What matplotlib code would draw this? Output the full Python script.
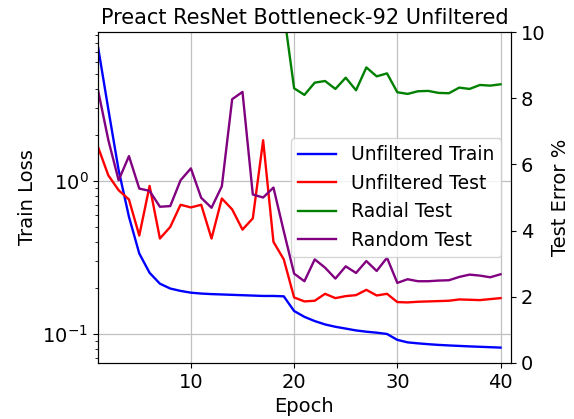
import matplotlib
matplotlib.use("Agg")
import matplotlib.pyplot as plt
import numpy as np

epochs = list(range(1, 41))

train_loss = [7.55, 2.95, 1.18, 0.585, 0.337, 0.252, 0.214, 0.199, 0.192, 0.187,
              0.1845, 0.183, 0.182, 0.181, 0.180, 0.179, 0.178, 0.178, 0.177, 0.142,
              0.130, 0.122, 0.116, 0.112, 0.109, 0.106, 0.104, 0.1025, 0.1005, 0.092,
              0.0886, 0.0873, 0.0862, 0.0853, 0.0846, 0.0840, 0.0834, 0.0829, 0.0824, 0.0819]

unfiltered_test = [6.53, 5.67, 5.22, 4.94, 3.85, 5.35, 3.76, 4.11, 4.78, 4.70,
                   4.78, 3.76, 4.97, 4.64, 4.03, 4.37, 6.73, 3.66, 3.13, 1.98,
                   1.86, 1.88, 2.09, 1.96, 2.02, 2.05, 2.21, 2.04, 2.09, 1.84,
                   1.83, 1.85, 1.86, 1.87, 1.88, 1.92, 1.91, 1.90, 1.93, 1.96]

radial_epochs = list(range(19, 41))
radial_test = [10.6, 8.30, 8.10, 8.47, 8.52, 8.28, 8.62, 8.24, 8.93, 8.66, 8.75,
               8.18, 8.13, 8.21, 8.22, 8.16, 8.15, 8.32, 8.28, 8.40, 8.38, 8.42]

random_test = [8.25, 6.74, 5.52, 6.25, 5.27, 5.20, 4.72, 4.74, 5.52, 5.88,
               4.99, 4.69, 5.34, 7.97, 8.19, 5.09, 5.00, 5.30, 3.98, 2.70,
               2.47, 3.13, 2.88, 2.55, 2.92, 2.72, 3.08, 2.78, 3.18, 2.42,
               2.53, 2.47, 2.47, 2.49, 2.50, 2.60, 2.67, 2.64, 2.59, 2.68]

fs = 14
fig = plt.figure(figsize=(5.74, 4.19), dpi=100)
ax1 = fig.add_axes([0.1707, 0.1337, 0.890 - 0.1707, 0.9236 - 0.1337])
ax2 = ax1.twinx()

l1, = ax1.plot(epochs, train_loss, color='blue', lw=1.7, label='Unfiltered Train')
ax1.set_yscale('log')
ax1.set_ylim(0.065, 9.4)
ax1.set_xlim(1, 41)
ax1.set_xticks([10, 20, 30, 40])
ax1.grid(True, which='major', color='#c0c0c0', lw=0.9)
ax1.set_xlabel('Epoch', fontsize=fs)
ax1.set_ylabel('Train Loss', fontsize=fs)
ax1.tick_params(labelsize=fs)

l2, = ax2.plot(epochs, unfiltered_test, color='red', lw=1.7, label='Unfiltered Test')
l3, = ax2.plot(radial_epochs, radial_test, color='green', lw=1.7, label='Radial Test')
l4, = ax2.plot(epochs, random_test, color='purple', lw=1.7, label='Random Test')
ax2.set_ylim(0, 10)
ax2.set_yticks([0, 2, 4, 6, 8, 10])
ax2.set_ylabel('Test Error %', fontsize=fs)
ax2.tick_params(labelsize=fs)

ax2.legend(handles=[l1, l2, l3, l4], loc='center right', fontsize=13.5)
ax1.set_title('Preact ResNet Bottleneck-92 Unfiltered', fontsize=15)

fig.savefig('out.png', dpi=100)
